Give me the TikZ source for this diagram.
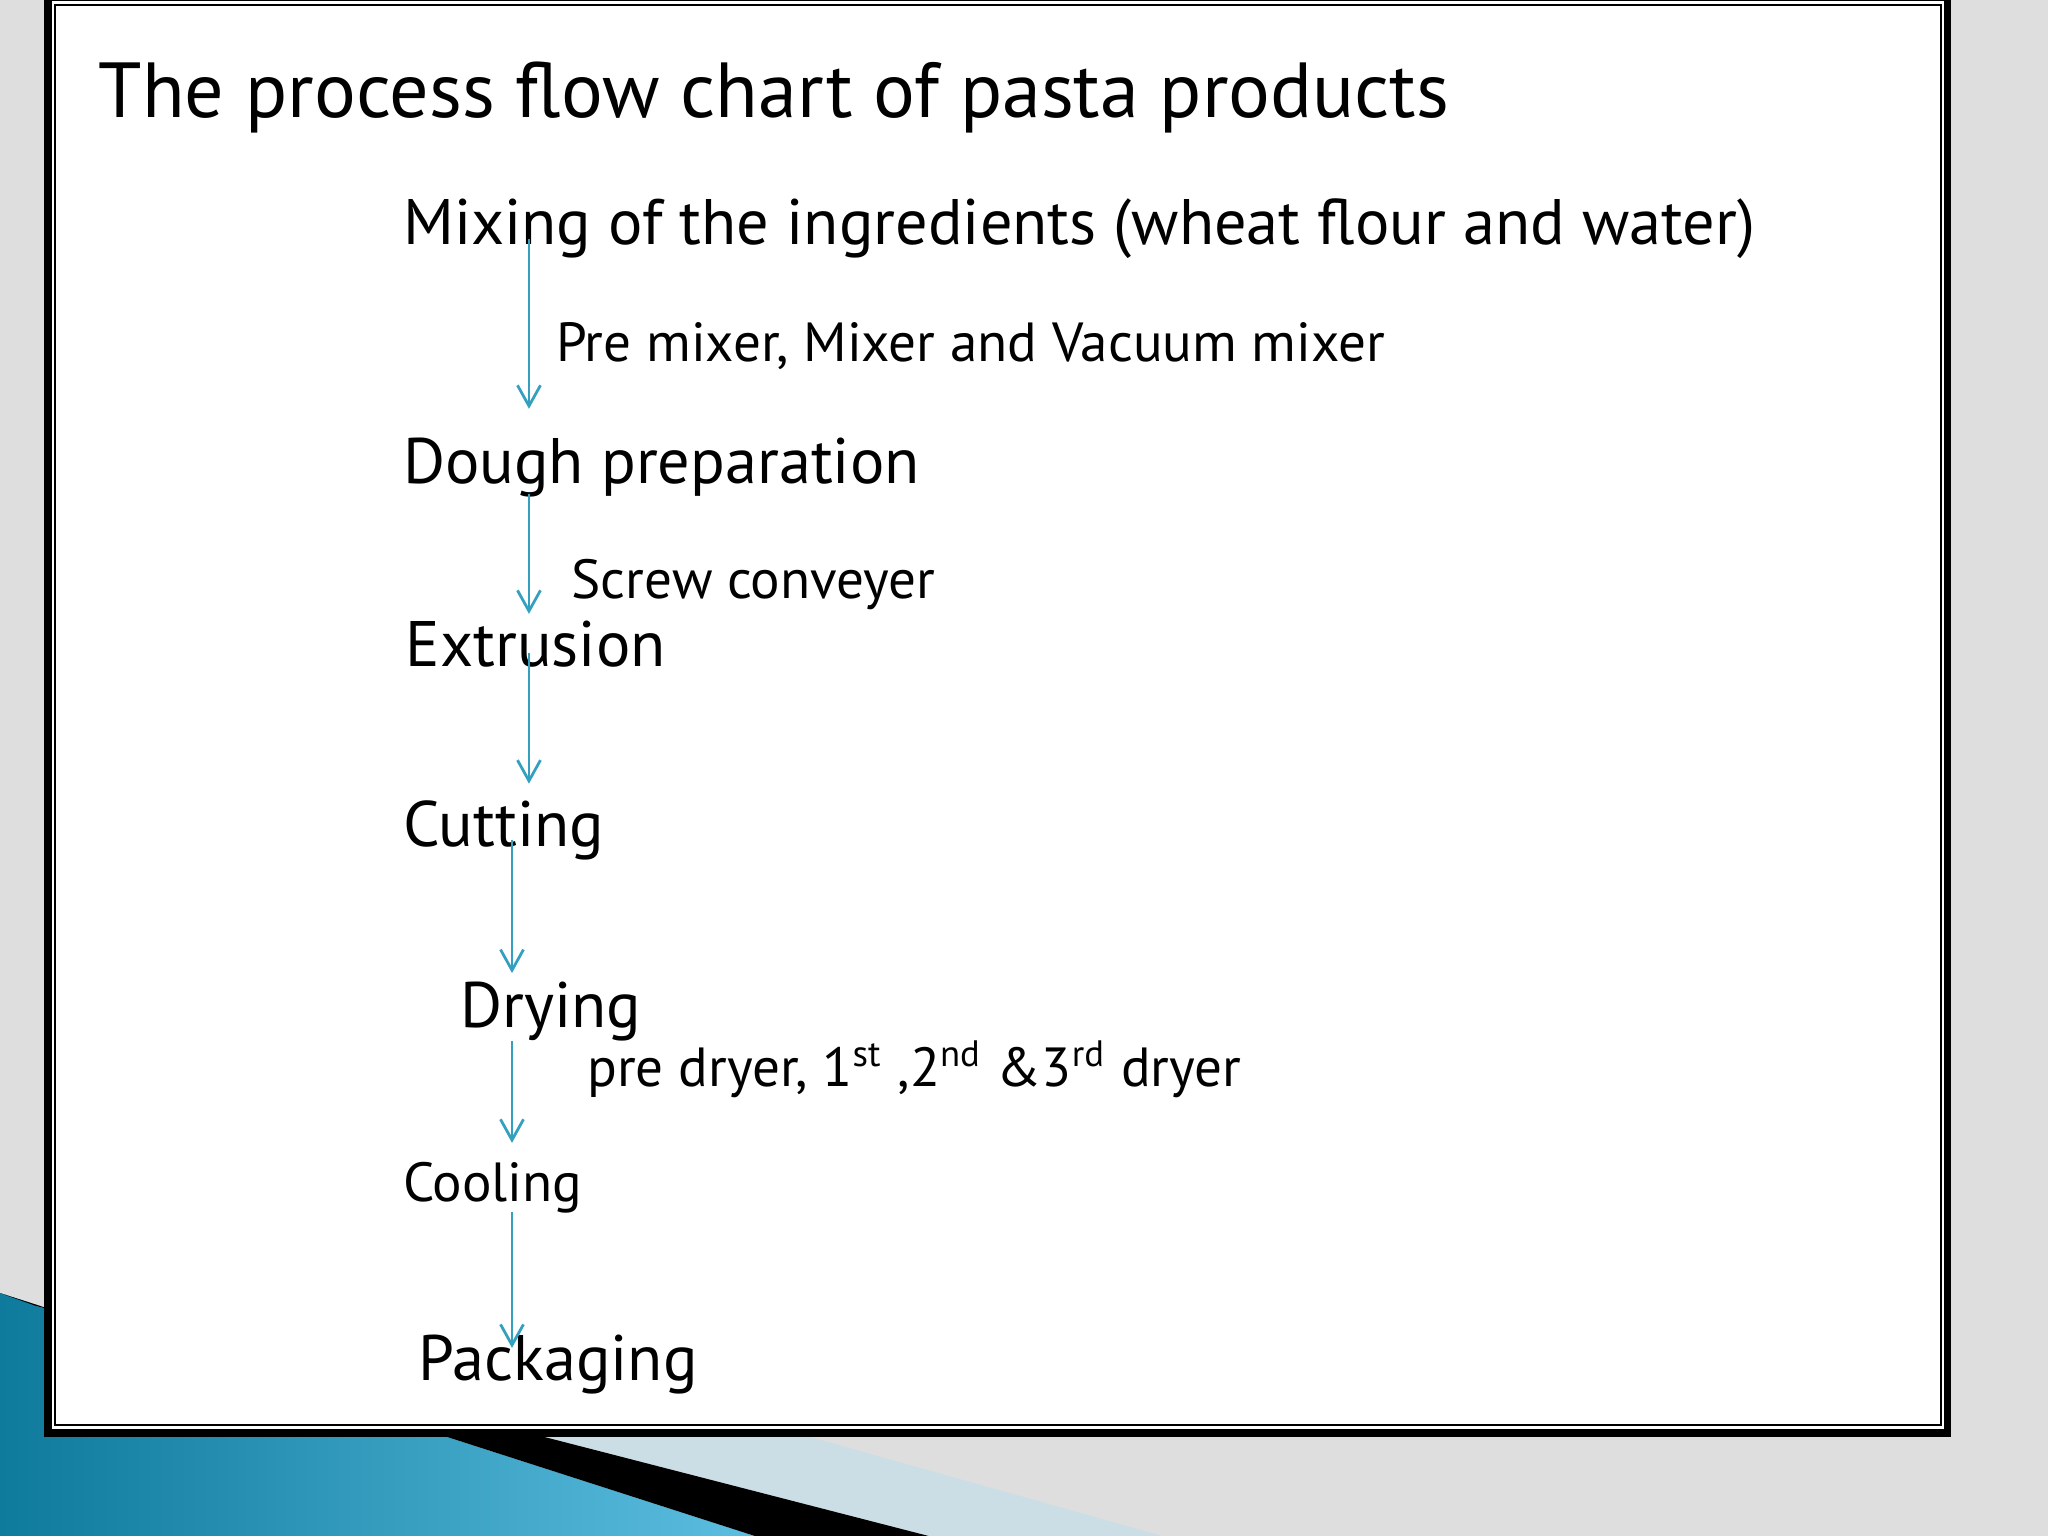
\documentclass[tikz,border=0pt]{standalone}
\usepackage{fontspec}
\setmainfont{PT Sans}
\usetikzlibrary{arrows.meta}
\definecolor{flowblue}{RGB}{52,160,192}
\definecolor{marble}{RGB}{222,222,222}
\definecolor{deepteal}{RGB}{14,122,156}
\definecolor{lightteal}{RGB}{92,190,224}
\definecolor{paleband}{RGB}{204,222,229}

\tikzset{
  heading/.style={anchor=base west, inner sep=0pt, font=\fontsize{17}{20}\selectfont},
  stage/.style={anchor=base west, inner sep=0pt, font=\fontsize{14}{17}\selectfont},
  machine/.style={anchor=base west, inner sep=0pt, font=\fontsize{12}{14}\selectfont},
  flow/.style={draw=flowblue, line width=0.6pt, -{Straight Barb[length=4.5pt,width=5pt]}}
}

\begin{document}
\begin{tikzpicture}[x=0.01cm, y=-0.01cm]
        % slide background
        \fill [marble] (0,0) rectangle (1568,1176);
        \useasboundingbox (0,0) rectangle (1568,1176);
        \shade [left color=deepteal, right color=lightteal] (0,990) -- (578,1176) -- (0,1176) -- cycle;
        \fill [paleband] (28,1000) -- (264,1000) -- (890,1176) -- (711,1176) -- cycle;
        \fill [black] (0,990) -- (578,1176) -- (711,1176) -- (28,1000) -- cycle;
        % frame
        \fill [white] (37,-2) rectangle (1491,1097);
        \draw [line width=1.7pt] (37,-2) rectangle (1491,1097);
        \draw [line width=0.5pt] (42,4) rectangle (1486,1091);

        \node [heading] (title) at (75,90) {The process flow chart of pasta products};
        \node [stage] (mix) at (308,187) {Mixing of the ingredients (wheat flour and water)};
        \node [machine] (premix) at (425,277) {Pre mixer, Mixer and Vacuum mixer};
        \node [stage] (dough) at (308,370) {Dough preparation};
        \node [machine] (screw) at (437,458) {Screw conveyer};
        \node [stage] (extrusion) at (310,510) {Extrusion};
        \node [stage] (cutting) at (308,648) {Cutting};
        \node [stage] (drying) at (352,787) {Drying};
        \node [machine] (dryers) at (449,832) {pre dryer, 1\textsuperscript{st} ,2\textsuperscript{nd} \&3\textsuperscript{rd} dryer};
        \node [machine] (cooling) at (308,920) {Cooling};
        \node [stage] (packaging) at (320,1057) {Packaging};

        % arrow ends
        \coordinate (mixout) at (405,183);
        \coordinate (doughin) at (405,313);
        \coordinate (doughout) at (405,378);
        \coordinate (extrin) at (405,470);
        \coordinate (extrout) at (405,500);
        \coordinate (cutin) at (405,600);
        \coordinate (cutout) at (392,643);
        \coordinate (dryin) at (392,745);
        \coordinate (dryout) at (392,797);
        \coordinate (coolin) at (392,875);
        \coordinate (coolout) at (392,928);
        \coordinate (packin) at (392,1032);
        \foreach \a/\b in {mixout/doughin, doughout/extrin, extrout/cutin, cutout/dryin, dryout/coolin, coolout/packin}
            \draw [flow] (\a) -- (\b);
\end{tikzpicture}
\end{document}
